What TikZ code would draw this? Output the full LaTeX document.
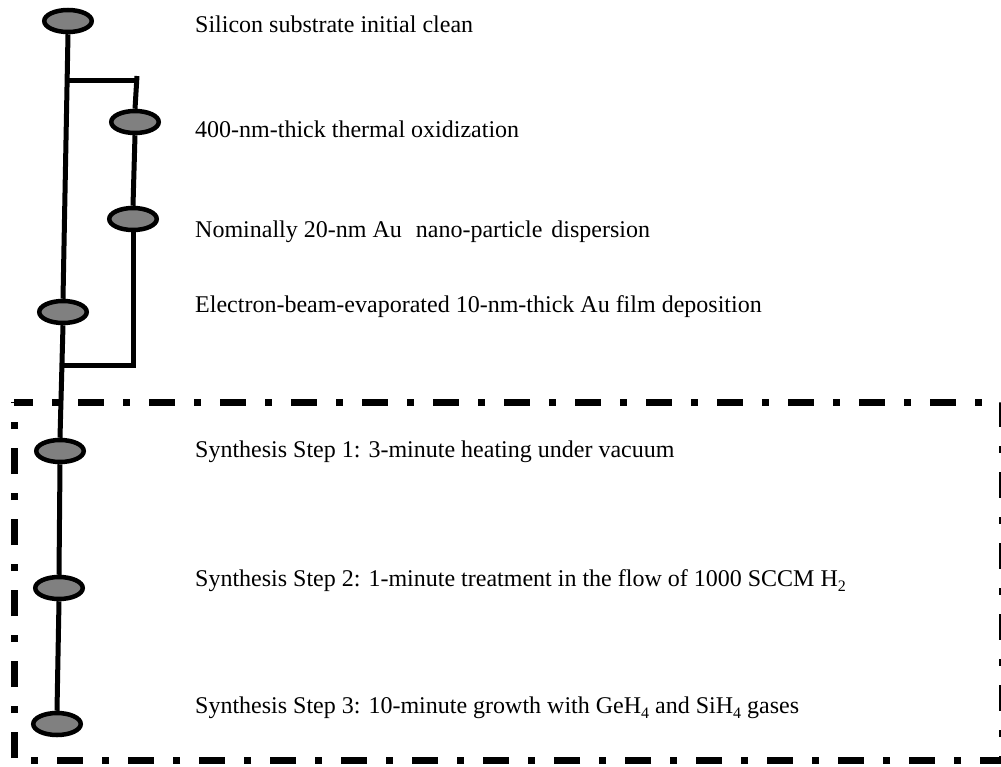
\documentclass[tikz,border=0pt]{standalone}
\usepackage{fontspec}
\setmainfont{Liberation Serif}
\usetikzlibrary{shapes.geometric}
\newcommand{\lowsub}[1]{\raisebox{-5pt}{\fontsize{16}{16}\selectfont #1}}
\begin{document}
\begin{tikzpicture}[x=1pt,y=-1pt,
  stepdot/.style={ellipse,draw=black,line width=4.5pt,fill=ellipsegray,minimum width=47.5pt,minimum height=22pt,inner sep=0pt},
  lbl/.style={anchor=base west,inner sep=0pt,font=\fontsize{24}{28}\selectfont},
  conn/.style={line width=5pt},
  frame/.style={line width=7pt,dash pattern=on 26pt off 19pt on 7pt off 19pt,dash phase=7pt}]
\definecolor{ellipsegray}{RGB}{128,128,128}
\useasboundingbox (0,0) rectangle (1001,766);
\node[stepdot] (e1) at (68,21) {};
\node[stepdot] (e2) at (135,122) {};
\node[stepdot] (e3) at (133,219) {};
\node[stepdot] (e4) at (63,312) {};
\node[stepdot] (e5) at (60,451) {};
\node[stepdot] (e6) at (59,588) {};
\node[stepdot] (e7) at (57,724) {};
\coordinate (b0) at (68,80);
\coordinate (b1) at (137,76);
\coordinate (j2) at (64,365);
\draw[conn] (e1.south) -- (e4.north);
\draw[conn] (b0) -- (b0 -| b1);
\draw[conn] (b1) -- (e2.north);
\draw[conn] (e2.south) -- (e3.north);
\draw[conn] (e3.south) |- (j2);
\draw[conn] (e4.south) -- (e5.north);
\draw[conn] (e5.south) -- (e6.north);
\draw[conn] (e6.south) -- (e7.north);
\draw[frame] (14,402) -- (1002,402) -- (1002,760) -- (14,760) -- cycle;
\node[lbl] (t1) at (195,32) {Silicon substrate initial clean};
\node[lbl] (t2) at (195,137) {400-nm-thick thermal oxidization};
\node[lbl] (t3) at (195,237) {Nominally 20-nm Au\hspace{14pt}nano-particle\hspace{9pt}dispersion};
\node[lbl] (t4) at (195,312) {Electron-beam-evaporated 10-nm-thick Au film deposition};
\node[lbl] (t5) at (195,457) {Synthesis Step 1: 3-minute heating under vacuum};
\node[lbl] (t6) at (195,586) {Synthesis Step 2: 1-minute treatment in the flow of 1000 SCCM H\lowsub{2}};
\node[lbl] (t7) at (195,713) {Synthesis Step 3: 10-minute growth with GeH\lowsub{4} and SiH\lowsub{4} gases};
\end{tikzpicture}
\end{document}
